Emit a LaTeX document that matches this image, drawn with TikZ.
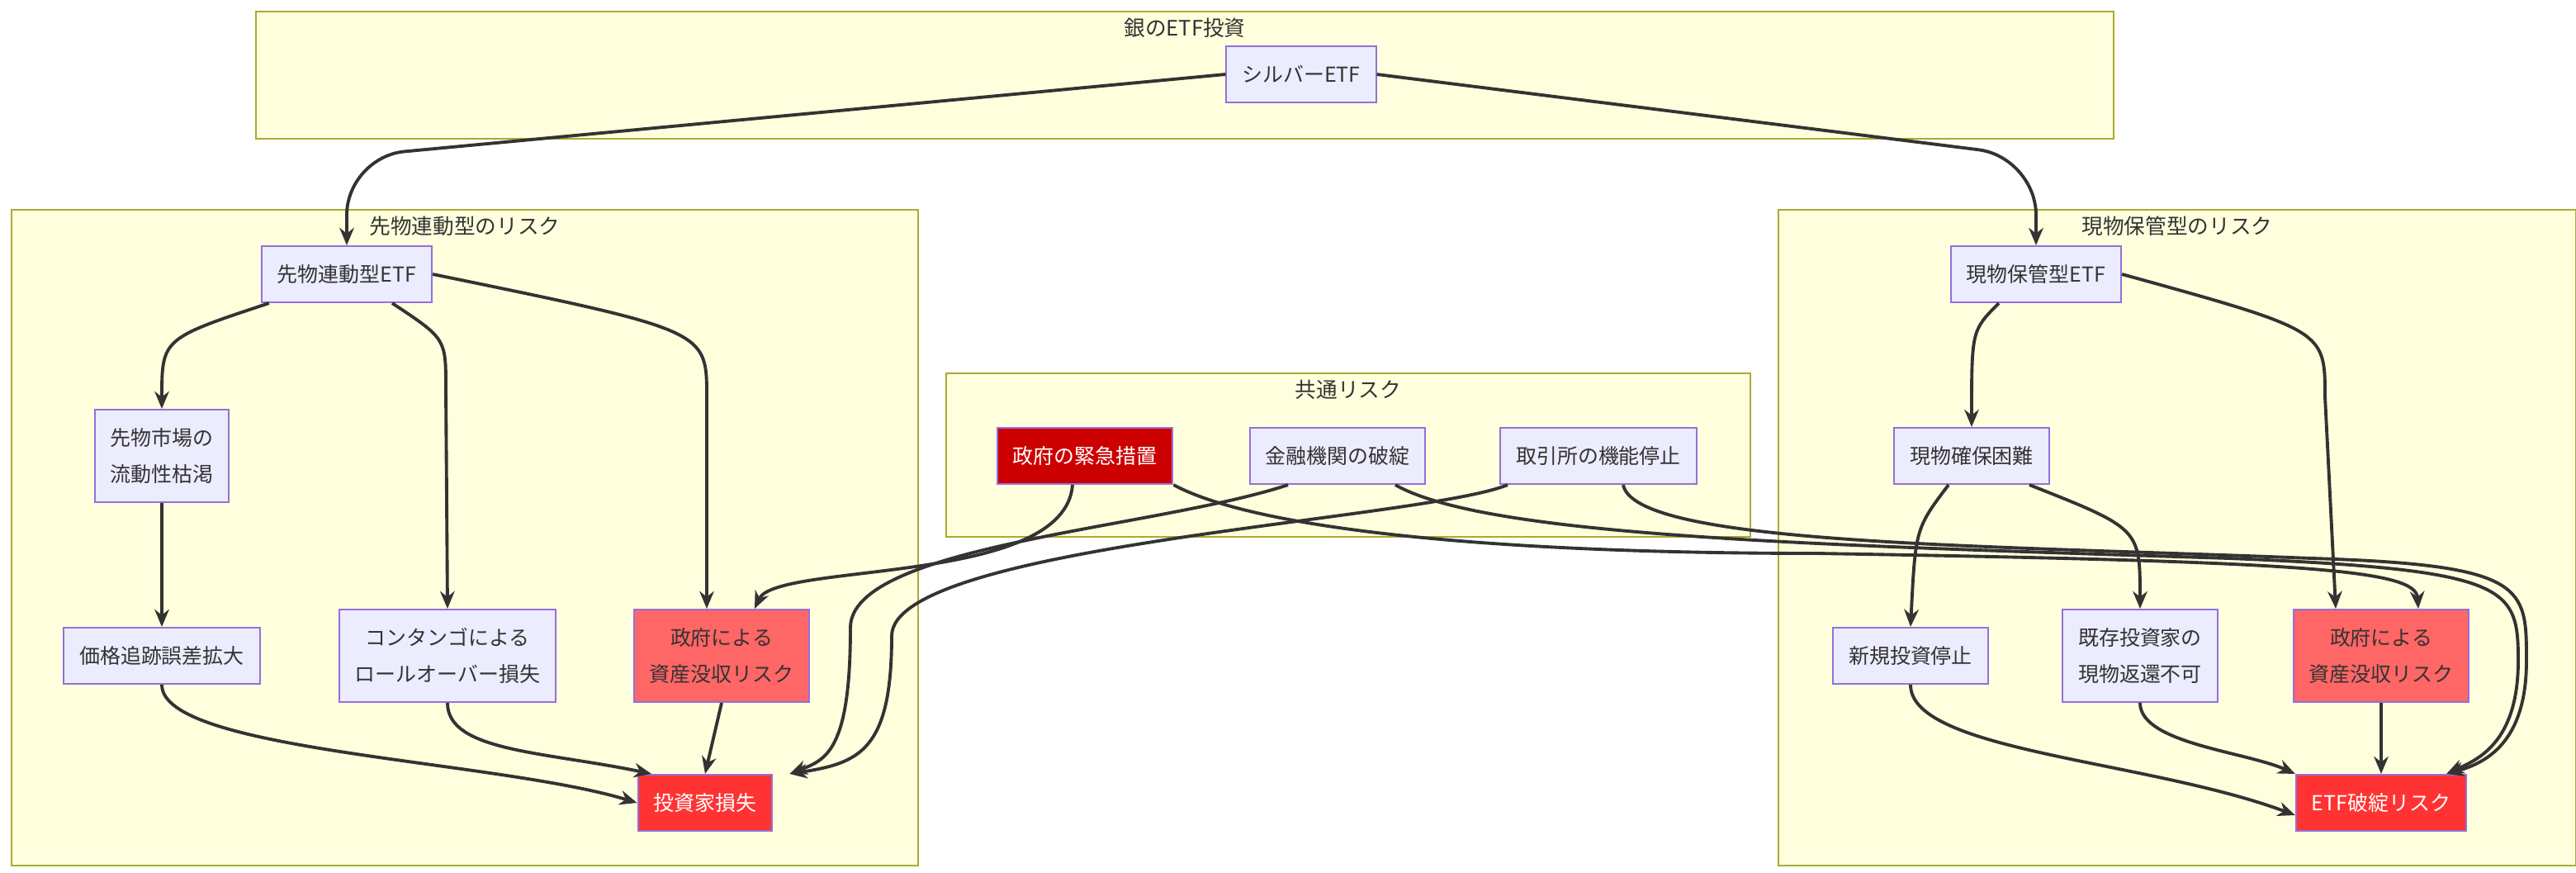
\documentclass[tikz,border=0pt]{standalone}
\usepackage{fontspec}
\usepackage{tikz}
\usetikzlibrary{calc}
\usetikzlibrary{arrows.meta}
\newfontfamily\cjk{Noto Sans CJK JP}
\definecolor{clfill}{HTML}{FFFFDE}
\definecolor{cldraw}{HTML}{AAAA33}
\definecolor{ndfill}{HTML}{ECECFF}
\definecolor{nddraw}{HTML}{9370DB}
\definecolor{riskA}{HTML}{FF6666}
\definecolor{riskB}{HTML}{FF3333}
\definecolor{riskC}{HTML}{CC0000}
\newcommand{\cluster}[5]{\filldraw[fill=clfill, draw=cldraw, line width=0.6pt] ( #1 , #2 ) rectangle ( #3 , #4 ); \node[font=\cjk\fontsize{7.3}{9}\selectfont, text=black!80] at ( #1 * 0.5 + #3 * 0.5 , #2 + 10 ) {#5};}
\tikzset{
  box/.style={draw=nddraw, fill=ndfill, line width=0.6pt, font=\cjk\fontsize{7.1}{12.5}\selectfont, text=black!80, align=center, inner xsep=0.19cm, minimum height=0.68cm},
  two/.style={minimum height=1.12cm},
  hot/.style={fill=riskA, draw=nddraw},
  alarm/.style={fill=riskB, draw=nddraw, text=white},
  crit/.style={fill=riskC, draw=nddraw, text=white},
  link/.style={line width=1.1pt, draw=black!80, -{Stealth[length=6pt,width=5pt]}}
}
\begin{document}
\begin{tikzpicture}[x=0.02cm, y=-0.02cm]
        \useasboundingbox (0,0) rectangle (1560,528);
        % clusters
        \cluster{155}{7}{1280}{84}{銀のETF投資}
        \cluster{7}{127}{556}{524}{先物連動型のリスク}
        \cluster{573}{226}{1060}{325}{共通リスク}
        \cluster{1077}{127}{1560}{524}{現物保管型のリスク}
        % nodes
        \node[box] (silver) at (788,45) {シルバーETF};
        \node[box] (fut) at (210,166) {先物連動型ETF};
        \node[box, two] (liq) at (98,276) {先物市場の\\流動性枯渇};
        \node[box] (track) at (98,397) {価格追跡誤差拡大};
        \node[box, two] (roll) at (271,397) {コンタンゴによる\\ロールオーバー損失};
        \node[box, two, hot] (seizeL) at (437,397) {政府による\\資産没収リスク};
        \node[box, alarm] (loss) at (427,486) {投資家損失};
        \node[box, crit] (emerg) at (657,276) {政府の緊急措置};
        \node[box] (bank) at (810,276) {金融機関の破綻};
        \node[box] (exch) at (968,276) {取引所の機能停止};
        \node[box] (phys) at (1233,166) {現物保管型ETF};
        \node[box] (secure) at (1194,276) {現物確保困難};
        \node[box] (stop) at (1157,397) {新規投資停止};
        \node[box, two] (redeem) at (1296,397) {既存投資家の\\現物返還不可};
        \node[box, two, hot] (seizeR) at (1442,397) {政府による\\資産没収リスク};
        \node[box, alarm] (fail) at (1442,486) {ETF破綻リスク};
        % top
        \draw[link, rounded corners=20] (silver.west) -- (210,95) -- (fut.north);
        \draw[link, rounded corners=20] (silver.east) -- (1233,95) -- (phys.north);
        % futures side
        \draw[link] ([xshift=0.1cm]fut.south west) .. controls (98,205) .. (liq.north);
        \draw[link] ([xshift=0.55cm]fut.south) .. controls (270,205) .. (270,235) -- (roll.north);
        \draw[link] (fut.east) .. controls (428,200) .. (428,240) -- ([xshift=-0.18cm]seizeL.north);
        \draw[link] (liq.south) -- (track.north);
        \draw[link] (track.south) .. controls (98,455) and (300,460) .. (loss.west);
        \draw[link] (roll.south) .. controls (271,455) and (330,455) .. ([xshift=-0.65cm]loss.north);
        \draw[link] (seizeL.south) -- (loss.north);
        % common risks
        \draw[link] ([xshift=-0.15cm]emerg.south) .. controls (645,355) and (470,340) .. ([xshift=0.4cm]seizeL.north);
        \draw[link] ([xshift=-0.6cm]bank.south) .. controls (700,320) and (515,330) .. (515,380) .. controls (515,455) and (500,460) .. ([xshift=0.2cm]loss.north east);
        \draw[link] ([xshift=-1.1cm]exch.south) .. controls (860,315) and (540,330) .. (540,385) .. controls (540,455) and (520,462) .. ([xshift=0.2cm]loss.north east);
        \draw[link] (emerg.south east) .. controls (760,320) and (900,335) .. (1100,335) .. controls (1400,340) and (1463,345) .. ([xshift=0.45cm]seizeR.north);
        \draw[link] ([xshift=0.7cm]bank.south) .. controls (900,325) and (1100,330) .. (1350,338) .. controls (1520,345) and (1525,355) .. (1525,400) .. controls (1525,450) and (1500,460) .. ([xshift=-0.25cm]fail.north east);
        \draw[link] ([xshift=0.3cm]exch.south) .. controls (990,330) and (1200,330) .. (1400,338) .. controls (1530,342) and (1530,355) .. (1530,400) .. controls (1530,450) and (1505,462) .. ([xshift=-0.25cm]fail.north east);
        % physical side
        \draw[link] ([xshift=-0.45cm]phys.south) .. controls (1194,200) .. (secure.north);
        \draw[link] (phys.east) .. controls (1408,200) .. (1408,240) -- ([xshift=-0.55cm]seizeR.north);
        \draw[link] ([xshift=-0.28cm]secure.south) .. controls (1160,320) .. (stop.north);
        \draw[link] ([xshift=0.7cm]secure.south) .. controls (1296,320) .. (redeem.north);
        \draw[link] (stop.south) .. controls (1157,455) and (1300,460) .. ([yshift=-0.15cm]fail.west);
        \draw[link] (redeem.south) .. controls (1296,450) and (1360,455) .. (fail.north west);
        \draw[link] (seizeR.south) -- (fail.north);
\end{tikzpicture}
\end{document}
